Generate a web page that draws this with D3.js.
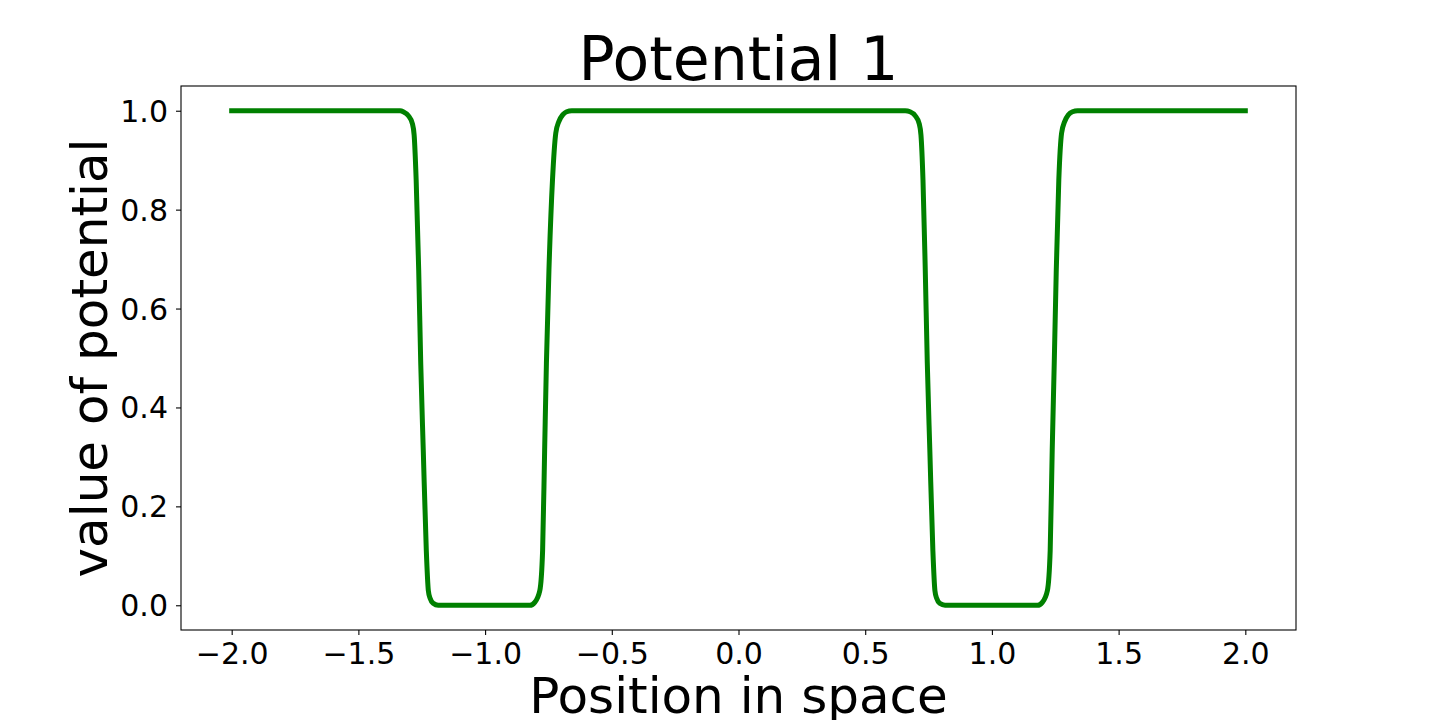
<!DOCTYPE html>
<html>
<head>
<meta charset="utf-8">
<script src="https://cdn.jsdelivr.net/npm/d3@7"></script>
<style>
  body { margin: 0; background: #fff; }
  svg { display: block; }
  text { font-family: "DejaVu Sans", sans-serif; fill: #000; }
</style>
</head>
<body>
<script>
// values
const xs = [
  -2.0, -1.335, -1.323, -1.303, -1.287, -1.280, -1.272, -1.262, -1.254, -1.244,
  -1.232, -1.224, -1.217, -1.205, -1.185,
  -0.823, -0.804, -0.784, -0.773, -0.765, -0.758, -0.748, -0.734, -0.721, -0.709,
  -0.693, -0.678, -0.658,
  0.658, 0.677, 0.697, 0.713, 0.720, 0.728, 0.737, 0.745, 0.755, 0.767,
  0.775, 0.782, 0.794, 0.815,
  1.180, 1.199, 1.219, 1.230, 1.238, 1.246, 1.254, 1.264, 1.275, 1.287,
  1.302, 1.318, 1.338, 2.0
];
const potential = [
  1.0, 1.0, 0.998, 0.99, 0.974, 0.951, 0.86, 0.678, 0.49, 0.314,
  0.111, 0.030, 0.014, 0.004, 0.0,
  0.0, 0.006, 0.030, 0.111, 0.314, 0.49, 0.678, 0.86, 0.955, 0.978,
  0.992, 0.998, 1.0,
  1.0, 0.998, 0.99, 0.974, 0.951, 0.86, 0.678, 0.49, 0.314, 0.111,
  0.030, 0.014, 0.004, 0.0,
  0.0, 0.006, 0.030, 0.111, 0.314, 0.49, 0.678, 0.86, 0.955, 0.978,
  0.992, 0.998, 1.0, 1.0
];
const xTicks = [-2.0, -1.5, -1.0, -0.5, 0.0, 0.5, 1.0, 1.5, 2.0];
const yTicks = [0.0, 0.2, 0.4, 0.6, 0.8, 1.0];

const W = 1440, H = 720;
const margin = { left: 181, right: 144, top: 86, bottom: 90 };

const svg = d3.select("body").append("svg")
  .attr("width", W)
  .attr("height", H);

const x = d3.scaleLinear()
  .domain([-2.2, 2.2])
  .range([margin.left, W - margin.right]);
const y = d3.scaleLinear()
  .domain([-0.05, 1.05])
  .range([H - margin.bottom, margin.top]);

const data = xs.map((d, i) => ({ x: d, v: potential[i] }));

// curve
const line = d3.line()
  .x(d => x(d.x))
  .y(d => y(d.v))
  .curve(d3.curveMonotoneX);

svg.append("path")
  .datum(data)
  .attr("fill", "none")
  .attr("stroke", "#008000")
  .attr("stroke-width", 5)
  .attr("stroke-linejoin", "round")
  .attr("stroke-linecap", "square")
  .attr("d", line);

// axes
const fmt = d3.format(".1f");
const minus = s => s.replace("-", "\u2212");

const xAxis = svg.append("g")
  .attr("transform", "translate(0," + (H - margin.bottom) + ")")
  .call(d3.axisBottom(x).tickValues(xTicks).tickSize(5).tickPadding(8)
    .tickFormat(d => minus(fmt(d))));
const yAxis = svg.append("g")
  .attr("transform", "translate(" + margin.left + ",0)")
  .call(d3.axisLeft(y).tickValues(yTicks).tickSize(5).tickPadding(8)
    .tickFormat(fmt));

[xAxis, yAxis].forEach(g => {
  g.select(".domain").remove();
  g.selectAll(".tick line").attr("stroke", "#000").attr("stroke-width", 1.1);
  g.selectAll(".tick text")
    .style("font-family", "DejaVu Sans")
    .style("font-size", "30px")
    .attr("fill", "#000");
});
xAxis.selectAll(".tick text").attr("dy", "0.71em");
yAxis.selectAll(".tick text").attr("dy", "0.35em");

// frame
svg.append("rect")
  .attr("x", x.range()[0])
  .attr("y", y.range()[1])
  .attr("width", x.range()[1] - x.range()[0])
  .attr("height", y.range()[0] - y.range()[1])
  .attr("fill", "none")
  .attr("stroke", "#000")
  .attr("stroke-width", 1.1);

const cx = (x.range()[0] + x.range()[1]) / 2;
const cy = (y.range()[0] + y.range()[1]) / 2;

svg.append("text")
  .attr("x", cx)
  .attr("y", 80)
  .attr("text-anchor", "middle")
  .style("font-size", "60px")
  .text("Potential 1");

svg.append("text")
  .attr("x", cx)
  .attr("y", 713)
  .attr("text-anchor", "middle")
  .style("font-size", "50px")
  .text("Position in space");

svg.append("text")
  .attr("transform", "translate(107," + cy + ")rotate(-90)")
  .attr("text-anchor", "middle")
  .style("font-size", "50px")
  .text("value of potential");
</script>
</body>
</html>
